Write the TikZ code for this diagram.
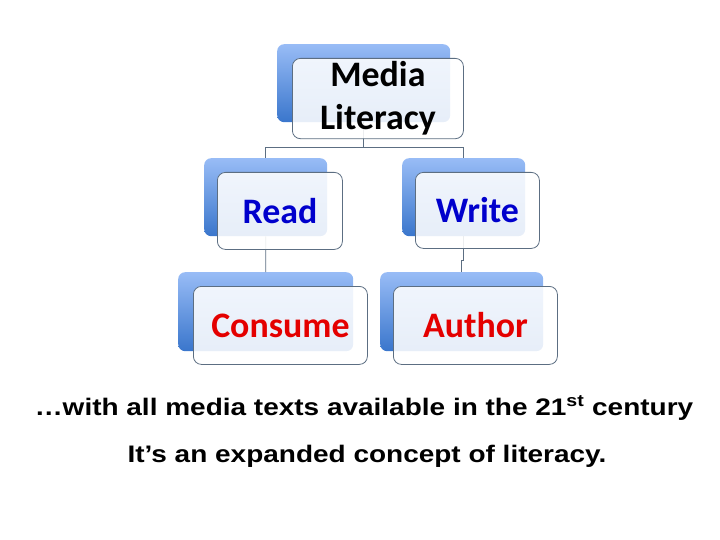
\documentclass[tikz,border=0pt]{standalone}
\usepackage{fontspec}
\setmainfont{Liberation Sans}
\newfontfamily\calibrifont{Carlito}
\newfontfamily\captionfont[FakeStretch=1.17]{Liberation Sans}
\usepackage{tikz}
\usetikzlibrary{calc,positioning}
\definecolor{backTop}{RGB}{152,188,246}
\definecolor{backBottom}{RGB}{58,118,204}
\definecolor{frameGray}{RGB}{92,110,130}
\definecolor{readBlue}{RGB}{0,0,204}
\definecolor{authorRed}{RGB}{228,0,0}
\tikzstyle{backBox} = [rounded corners=7bp, top color=backTop, bottom color=backBottom, draw=none]
\tikzstyle{frontBox} = [rounded corners=8bp, draw=frameGray, line width=0.8bp, fill=white, fill opacity=0.88, text opacity=1, align=center, font=\calibrifont\bfseries\fontsize{36}{44}\selectfont, anchor=north west]
\tikzstyle{link} = [draw=frameGray, line width=0.8bp]
\tikzstyle{caption} = [font=\captionfont\bfseries\fontsize{24}{28}\selectfont]

\begin{document}
\begin{tikzpicture}[x=1bp,y=-1bp]
						\useasboundingbox (0,0) rectangle (720,540);
						\node (mediaBack) at (277,44) [backBox,minimum width=173bp,minimum height=78bp,anchor=north west]{};
						\node (readBack) at (204,158) [backBox,minimum width=123bp,minimum height=78bp,anchor=north west]{};
						\node (writeBack) at (402,158) [backBox,minimum width=123bp,minimum height=78bp,anchor=north west]{};
						\node (consumeBack) at (178,272) [backBox,minimum width=175bp,minimum height=79bp,anchor=north west]{};
						\node (authorBack) at (380,272) [backBox,minimum width=163bp,minimum height=79bp,anchor=north west]{};
						
						\draw[link] (mediaBack.south) -- ++(0,25) -| (readBack.north);
						\draw[link] (mediaBack.south) -- ++(0,25) -| (writeBack.north);
						\draw[link] (readBack.south) -- (consumeBack.north);
						\draw[link] (writeBack.south) -- ++(0,24) -| (authorBack.north);
						
						\node (media) at ($(mediaBack.north west)+(15,14)$) [frontBox,minimum width=171bp,minimum height=77bp]{Media\\[-1bp]Literacy};
						\node (read) at ($(readBack.north west)+(13,14)$) [frontBox,minimum width=125bp,minimum height=77bp,text=readBlue]{Read};
						\node (write) at ($(writeBack.north west)+(13,14)$) [frontBox,minimum width=124bp,minimum height=76bp,text=readBlue]{Write};
						\node (consume) at ($(consumeBack.north west)+(15,14)$) [frontBox,minimum width=174bp,minimum height=78bp,text=authorRed]{Consume};
						\node (author) at ($(authorBack.north west)+(13,14)$) [frontBox,minimum width=164bp,minimum height=78bp,text=authorRed]{Author};
						
						\node (textsLine) at (364,408) [caption]{\ldots with all media texts available in the 21\textsuperscript{st} century};
						\node (conceptLine) at (367,456) [caption]{It’s an expanded concept of literacy.};
					\end{tikzpicture}
\end{document}
